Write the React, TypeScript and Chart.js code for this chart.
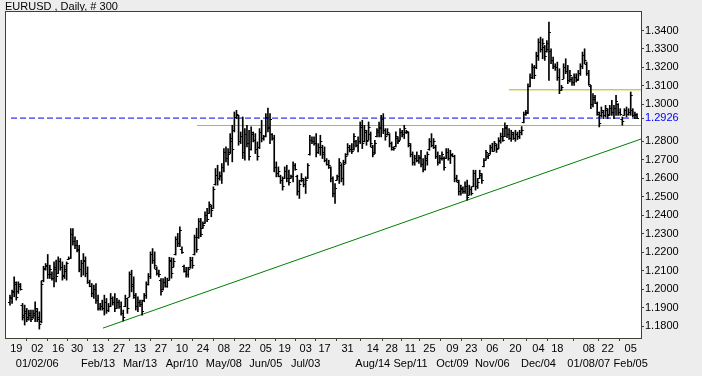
import React, { useEffect, useRef } from "react";
import { Chart, registerables } from "chart.js";

Chart.register(...registerables);

const chartTitle = "EURUSD , Daily, # 300";

const highs = [
  1.1968, 1.1995, 1.2067, 1.2040, 1.2040, 1.2031, 1.1923, 1.1914, 1.1896, 1.1887,
  1.1887, 1.1887, 1.1932, 1.1896, 1.1878, 1.2045, 1.2124, 1.2139, 1.2188, 1.2130,
  1.2094, 1.2148, 1.2157, 1.2175, 1.2166, 1.2148, 1.2130, 1.2148, 1.2175, 1.2328,
  1.2328, 1.2283, 1.2265, 1.2238, 1.2157, 1.2193, 1.2175, 1.2121, 1.2049, 1.2031,
  1.2022, 1.2031, 1.1968, 1.1923, 1.1941, 1.1968, 1.1950, 1.1923, 1.1977, 1.1959,
  1.1977, 1.1950, 1.1941, 1.1932, 1.1887, 1.1968, 1.1950, 1.2094, 1.2103, 1.2067,
  1.1977, 1.1959, 1.1941, 1.1941, 1.1977, 1.2040, 1.2085, 1.2202, 1.2220, 1.2202,
  1.2121, 1.2103, 1.2058, 1.2058, 1.2065, 1.2060, 1.2173, 1.2170, 1.2168, 1.2284,
  1.2302, 1.2338, 1.2230, 1.2130, 1.2119, 1.2119, 1.2173, 1.2173, 1.2293, 1.2330,
  1.2383, 1.2383, 1.2365, 1.2419, 1.2437, 1.2473, 1.2455, 1.2554, 1.2653, 1.2671,
  1.2635, 1.2680, 1.2761, 1.2770, 1.2761, 1.2842, 1.2887, 1.2959, 1.2968, 1.2941,
  1.2851, 1.2932, 1.2869, 1.2887, 1.2860, 1.2878, 1.2851, 1.2842, 1.2797, 1.2869,
  1.2914, 1.2833, 1.2950, 1.2980, 1.2950, 1.2842, 1.2833, 1.2689, 1.2662, 1.2617,
  1.2608, 1.2662, 1.2671, 1.2644, 1.2617, 1.2689, 1.2680, 1.2617, 1.2590, 1.2626,
  1.2599, 1.2608, 1.2680, 1.2833, 1.2824, 1.2824, 1.2842, 1.2788, 1.2833, 1.2779,
  1.2770, 1.2707, 1.2698, 1.2662, 1.2608, 1.2572, 1.2617, 1.2707, 1.2680, 1.2698,
  1.2734, 1.2788, 1.2779, 1.2788, 1.2842, 1.2806, 1.2824, 1.2905, 1.2914, 1.2887,
  1.2860, 1.2905, 1.2851, 1.2779, 1.2806, 1.2869, 1.2905, 1.2941, 1.2950, 1.2869,
  1.2869, 1.2842, 1.2797, 1.2770, 1.2851, 1.2824, 1.2869, 1.2860, 1.2887, 1.2860,
  1.2851, 1.2788, 1.2743, 1.2725, 1.2743, 1.2725, 1.2752, 1.2707, 1.2725, 1.2743,
  1.2815, 1.2842, 1.2815, 1.2779, 1.2743, 1.2725, 1.2743, 1.2716, 1.2761, 1.2761,
  1.2752, 1.2734, 1.2725, 1.2617, 1.2590, 1.2563, 1.2554, 1.2581, 1.2590, 1.2563,
  1.2554, 1.2644, 1.2644, 1.2599, 1.2644, 1.2626, 1.2707, 1.2752, 1.2734, 1.2780,
  1.2790, 1.2800, 1.2785, 1.2820, 1.2845, 1.2870, 1.2900, 1.2887, 1.2869, 1.2860,
  1.2850, 1.2860, 1.2850, 1.2860, 1.2880, 1.2959, 1.2968, 1.3112, 1.3166, 1.3220,
  1.3211, 1.3283, 1.3355, 1.3364, 1.3355, 1.3319, 1.3346, 1.3445, 1.3301, 1.3256,
  1.3220, 1.3229, 1.3193, 1.3103, 1.3220, 1.3247, 1.3211, 1.3184, 1.3148, 1.3166,
  1.3166, 1.3184, 1.3220, 1.3283, 1.3301, 1.3229, 1.3184, 1.3103, 1.3058, 1.3049,
  1.3013, 1.2959, 1.2986, 1.2968, 1.2995, 1.2977, 1.2995, 1.3022, 1.2995, 1.3049,
  1.3004, 1.2977, 1.2932, 1.2977, 1.2986, 1.2977, 1.3067, 1.2977, 1.2959, 1.2950,
];

const lows = [
  1.1914, 1.1923, 1.1959, 1.1941, 1.1977, 1.1995, 1.1833, 1.1806, 1.1824, 1.1833,
  1.1824, 1.1842, 1.1824, 1.1824, 1.1784, 1.1818, 1.2040, 1.2103, 1.2058, 1.2058,
  1.2049, 1.2013, 1.2040, 1.2085, 1.2103, 1.2049, 1.2058, 1.2049, 1.2160, 1.2166,
  1.2238, 1.2220, 1.2202, 1.2094, 1.2067, 1.2076, 1.2067, 1.2031, 1.2013, 1.1959,
  1.1950, 1.1923, 1.1887, 1.1887, 1.1887, 1.1860, 1.1869, 1.1878, 1.1905, 1.1914,
  1.1878, 1.1896, 1.1896, 1.1860, 1.1828, 1.1905, 1.1869, 1.1959, 1.1986, 1.1950,
  1.1887, 1.1878, 1.1905, 1.1860, 1.1932, 1.1950, 1.2022, 1.2058, 1.2139, 1.2112,
  1.2076, 1.2067, 1.1968, 1.1995, 1.2011, 1.2010, 1.2049, 1.2060, 1.2119, 1.2185,
  1.2230, 1.2230, 1.2194, 1.2092, 1.2065, 1.2065, 1.2113, 1.2113, 1.2185, 1.2200,
  1.2275, 1.2284, 1.2329, 1.2356, 1.2365, 1.2410, 1.2392, 1.2437, 1.2563, 1.2563,
  1.2590, 1.2572, 1.2635, 1.2689, 1.2671, 1.2734, 1.2689, 1.2851, 1.2923, 1.2779,
  1.2788, 1.2707, 1.2698, 1.2770, 1.2698, 1.2752, 1.2797, 1.2734, 1.2698, 1.2761,
  1.2797, 1.2806, 1.2824, 1.2851, 1.2788, 1.2806, 1.2635, 1.2608, 1.2608, 1.2572,
  1.2536, 1.2599, 1.2581, 1.2563, 1.2599, 1.2581, 1.2644, 1.2509, 1.2491, 1.2581,
  1.2554, 1.2518, 1.2599, 1.2725, 1.2788, 1.2779, 1.2716, 1.2734, 1.2725, 1.2707,
  1.2689, 1.2671, 1.2653, 1.2581, 1.2500, 1.2464, 1.2590, 1.2572, 1.2581, 1.2563,
  1.2680, 1.2725, 1.2743, 1.2734, 1.2752, 1.2770, 1.2743, 1.2788, 1.2761, 1.2797,
  1.2779, 1.2806, 1.2770, 1.2716, 1.2734, 1.2824, 1.2824, 1.2824, 1.2842, 1.2806,
  1.2833, 1.2770, 1.2752, 1.2752, 1.2770, 1.2788, 1.2806, 1.2824, 1.2815, 1.2842,
  1.2770, 1.2716, 1.2671, 1.2671, 1.2689, 1.2680, 1.2662, 1.2635, 1.2644, 1.2671,
  1.2752, 1.2770, 1.2761, 1.2707, 1.2671, 1.2680, 1.2698, 1.2644, 1.2707, 1.2698,
  1.2680, 1.2716, 1.2581, 1.2581, 1.2509, 1.2509, 1.2518, 1.2518, 1.2482, 1.2509,
  1.2509, 1.2554, 1.2536, 1.2545, 1.2599, 1.2572, 1.2662, 1.2698, 1.2707, 1.2730,
  1.2745, 1.2750, 1.2740, 1.2760, 1.2790, 1.2800, 1.2825, 1.2820, 1.2810, 1.2800,
  1.2810, 1.2800, 1.2810, 1.2815, 1.2835, 1.2900, 1.2941, 1.2950, 1.3094, 1.3139,
  1.3139, 1.3193, 1.3238, 1.3283, 1.3247, 1.3238, 1.3283, 1.3130, 1.3220, 1.3193,
  1.3184, 1.3130, 1.3058, 1.3076, 1.3139, 1.3166, 1.3112, 1.3121, 1.3103, 1.3103,
  1.3121, 1.3130, 1.3157, 1.3193, 1.3220, 1.3157, 1.3103, 1.2977, 1.2986, 1.3004,
  1.2941, 1.2878, 1.2932, 1.2923, 1.2932, 1.2923, 1.2941, 1.2941, 1.2923, 1.2941,
  1.2941, 1.2941, 1.2887, 1.2941, 1.2932, 1.2941, 1.2941, 1.2932, 1.2923, 1.2923,
];

const opens = [
  1.1930, 1.1950, 1.1985, 1.2030, 1.1990, 1.2020, 1.1915, 1.1860, 1.1870, 1.1850,
  1.1860, 1.1850, 1.1860, 1.1880, 1.1850, 1.1830, 1.2050, 1.2115, 1.2130, 1.2080,
  1.2085, 1.2060, 1.2110, 1.2090, 1.2150, 1.2120, 1.2075, 1.2100, 1.2165, 1.2170,
  1.2300, 1.2260, 1.2240, 1.2220, 1.2110, 1.2140, 1.2150, 1.2090, 1.2040, 1.2020,
  1.1980, 1.2000, 1.1940, 1.1900, 1.1910, 1.1900, 1.1930, 1.1890, 1.1910, 1.1950,
  1.1930, 1.1900, 1.1930, 1.1910, 1.1870, 1.1910, 1.1950, 1.1960, 1.2080, 1.2030,
  1.1960, 1.1910, 1.1930, 1.1920, 1.1940, 1.1970, 1.2030, 1.2070, 1.2190, 1.2160,
  1.2110, 1.2090, 1.2050, 1.2000, 1.2040, 1.2020, 1.2050, 1.2150, 1.2120, 1.2190,
  1.2270, 1.2250, 1.2220, 1.2125, 1.2100, 1.2080, 1.2120, 1.2160, 1.2190, 1.2280,
  1.2280, 1.2370, 1.2330, 1.2360, 1.2400, 1.2410, 1.2450, 1.2440, 1.2570, 1.2620,
  1.2600, 1.2610, 1.2660, 1.2740, 1.2710, 1.2740, 1.2800, 1.2860, 1.2930, 1.2940,
  1.2800, 1.2830, 1.2740, 1.2840, 1.2790, 1.2760, 1.2840, 1.2810, 1.2760, 1.2770,
  1.2850, 1.2820, 1.2830, 1.2930, 1.2880, 1.2840, 1.2820, 1.2660, 1.2630, 1.2610,
  1.2590, 1.2600, 1.2640, 1.2600, 1.2600, 1.2610, 1.2670, 1.2610, 1.2530, 1.2590,
  1.2590, 1.2570, 1.2600, 1.2730, 1.2810, 1.2800, 1.2790, 1.2740, 1.2770, 1.2770,
  1.2740, 1.2700, 1.2680, 1.2660, 1.2600, 1.2520, 1.2590, 1.2610, 1.2670, 1.2600,
  1.2690, 1.2730, 1.2770, 1.2760, 1.2760, 1.2800, 1.2780, 1.2800, 1.2880, 1.2800,
  1.2850, 1.2810, 1.2840, 1.2770, 1.2740, 1.2830, 1.2850, 1.2870, 1.2920, 1.2860,
  1.2840, 1.2840, 1.2790, 1.2760, 1.2775, 1.2820, 1.2810, 1.2850, 1.2840, 1.2850,
  1.2850, 1.2780, 1.2730, 1.2690, 1.2710, 1.2700, 1.2710, 1.2680, 1.2650, 1.2700,
  1.2760, 1.2800, 1.2780, 1.2770, 1.2720, 1.2690, 1.2710, 1.2710, 1.2710, 1.2740,
  1.2710, 1.2725, 1.2720, 1.2600, 1.2580, 1.2530, 1.2540, 1.2530, 1.2560, 1.2510,
  1.2540, 1.2560, 1.2630, 1.2560, 1.2600, 1.2620, 1.2665, 1.2700, 1.2720, 1.2735,
  1.2770, 1.2750, 1.2780, 1.2765, 1.2800, 1.2830, 1.2830, 1.2870, 1.2840, 1.2820,
  1.2840, 1.2820, 1.2840, 1.2830, 1.2850, 1.2905, 1.2950, 1.2960, 1.3100, 1.3150,
  1.3200, 1.3200, 1.3260, 1.3340, 1.3300, 1.3310, 1.3290, 1.3300, 1.3290, 1.3240,
  1.3210, 1.3200, 1.3150, 1.3080, 1.3140, 1.3200, 1.3180, 1.3130, 1.3140, 1.3120,
  1.3150, 1.3135, 1.3170, 1.3210, 1.3270, 1.3220, 1.3170, 1.3100, 1.3000, 1.3030,
  1.3010, 1.2950, 1.2940, 1.2960, 1.2940, 1.2970, 1.2950, 1.2980, 1.2960, 1.2980,
  1.3000, 1.2960, 1.2920, 1.2945, 1.2970, 1.2950, 1.2960, 1.2970, 1.2940, 1.2945,
];

const closes = [
  1.1960, 1.1990, 1.2040, 1.1960, 1.2030, 1.2000, 1.1850, 1.1880, 1.1840, 1.1870,
  1.1840, 1.1870, 1.1900, 1.1840, 1.1810, 1.2030, 1.2110, 1.2125, 1.2080, 1.2110,
  1.2060, 1.2120, 1.2070, 1.2150, 1.2120, 1.2070, 1.2110, 1.2140, 1.2170, 1.2300,
  1.2260, 1.2240, 1.2210, 1.2110, 1.2140, 1.2160, 1.2090, 1.2040, 1.2020, 1.1980,
  1.2000, 1.1940, 1.1900, 1.1910, 1.1900, 1.1930, 1.1890, 1.1910, 1.1950, 1.1930,
  1.1900, 1.1930, 1.1910, 1.1870, 1.1850, 1.1950, 1.1900, 1.2080, 1.2020, 1.1970,
  1.1910, 1.1930, 1.1920, 1.1880, 1.1970, 1.2030, 1.2070, 1.2190, 1.2160, 1.2130,
  1.2090, 1.2080, 1.1990, 1.2040, 1.2020, 1.2050, 1.2160, 1.2090, 1.2150, 1.2270,
  1.2250, 1.2320, 1.2200, 1.2100, 1.2080, 1.2110, 1.2160, 1.2130, 1.2280, 1.2220,
  1.2370, 1.2300, 1.2350, 1.2400, 1.2380, 1.2460, 1.2430, 1.2540, 1.2620, 1.2600,
  1.2620, 1.2660, 1.2740, 1.2710, 1.2730, 1.2820, 1.2760, 1.2930, 1.2950, 1.2800,
  1.2830, 1.2740, 1.2840, 1.2790, 1.2720, 1.2850, 1.2810, 1.2760, 1.2720, 1.2850,
  1.2820, 1.2830, 1.2930, 1.2870, 1.2920, 1.2820, 1.2660, 1.2630, 1.2640, 1.2590,
  1.2560, 1.2640, 1.2600, 1.2580, 1.2610, 1.2670, 1.2650, 1.2530, 1.2570, 1.2600,
  1.2570, 1.2590, 1.2670, 1.2810, 1.2800, 1.2790, 1.2740, 1.2770, 1.2800, 1.2730,
  1.2700, 1.2680, 1.2670, 1.2600, 1.2520, 1.2550, 1.2610, 1.2690, 1.2600, 1.2680,
  1.2720, 1.2770, 1.2760, 1.2750, 1.2830, 1.2780, 1.2800, 1.2890, 1.2790, 1.2860,
  1.2800, 1.2880, 1.2790, 1.2730, 1.2790, 1.2860, 1.2880, 1.2920, 1.2860, 1.2830,
  1.2850, 1.2790, 1.2770, 1.2765, 1.2830, 1.2800, 1.2850, 1.2840, 1.2870, 1.2855,
  1.2790, 1.2730, 1.2690, 1.2710, 1.2700, 1.2715, 1.2680, 1.2650, 1.2710, 1.2730,
  1.2800, 1.2780, 1.2800, 1.2720, 1.2690, 1.2710, 1.2730, 1.2660, 1.2740, 1.2710,
  1.2730, 1.2720, 1.2600, 1.2590, 1.2530, 1.2550, 1.2530, 1.2560, 1.2500, 1.2540,
  1.2520, 1.2630, 1.2560, 1.2580, 1.2630, 1.2590, 1.2700, 1.2740, 1.2725, 1.2770,
  1.2750, 1.2790, 1.2760, 1.2810, 1.2830, 1.2810, 1.2880, 1.2840, 1.2820, 1.2850,
  1.2820, 1.2840, 1.2830, 1.2850, 1.2860, 1.2950, 1.2955, 1.3100, 1.3150, 1.3200,
  1.3160, 1.3270, 1.3340, 1.3300, 1.3330, 1.3260, 1.3330, 1.3390, 1.3240, 1.3210,
  1.3200, 1.3150, 1.3080, 1.3095, 1.3200, 1.3180, 1.3130, 1.3160, 1.3120, 1.3150,
  1.3130, 1.3170, 1.3210, 1.3270, 1.3240, 1.3170, 1.3110, 1.3000, 1.3040, 1.3010,
  1.2960, 1.2900, 1.2970, 1.2940, 1.2980, 1.2940, 1.2980, 1.2960, 1.2980, 1.3020,
  1.2960, 1.2950, 1.2910, 1.2970, 1.2950, 1.2960, 1.3050, 1.2940, 1.2950, 1.2926,
];

// x-axis ticks (bar index, day label, month label)
const tickIndex = [3, 13, 23, 32, 42, 52, 62, 72, 82, 92, 102, 112, 122, 131, 141, 150, 161, 173, 182, 191, 200, 211, 220, 230, 241, 252, 261, 276, 285, 296];
const tickDay = ["19", "02", "16", "30", "13", "27", "13", "27", "10", "24", "08", "22", "05", "19", "03", "17", "31", "14", "28", "11", "25", "09", "23", "06", "20", "04", "18", "08", "22", "05"];
const tickMonth = ["", "01/02/06", "", "", "Feb/13", "", "Mar/13", "", "Apr/10", "", "May/08", "", "Jun/05", "", "Jul/03", "", "", "Aug/14", "", "Sep/11", "", "Oct/09", "", "Nov/06", "", "Dec/04", "", "01/08/07", "", "Feb/05"];

// y-axis ticks
const yTickValues = [1.18, 1.19, 1.2, 1.21, 1.22, 1.23, 1.24, 1.25, 1.26, 1.27, 1.28, 1.2926, 1.3, 1.31, 1.32, 1.33, 1.34];
const lastPrice = 1.2926;

// horizontal levels: value and first bar index
const levelValues = [1.2886, 1.3079];
const levelStart = [89.2, 237.9];
const levelColors = ["#f5a000", "#b4b400"];

// trendline anchored on two lows (bar indices)
const trendAnchors = [54, 218];
const trendStartIndex = 44.35;

const X_MIN = -1.9;
const X_MAX = 300.9;
const Y_MIN = 1.1736;
const Y_MAX = 1.35;

export default function App() {
  const canvasRef = useRef<HTMLCanvasElement | null>(null);

  useEffect(() => {
    const canvas = canvasRef.current;
    if (!canvas) return;

    const a0 = trendAnchors[0];
    const a1 = trendAnchors[1];
    const slope = (lows[a1] - lows[a0]) / (a1 - a0);
    const trendAt = (i: number) => lows[a0] + (i - a0) * slope;

    const frame = {
      id: "frame",
      beforeDraw(chart: any) {
        const { ctx, chartArea } = chart;
        ctx.save();
        ctx.fillStyle = "#ededed";
        ctx.fillRect(0, 0, chart.width, chart.height);
        ctx.fillStyle = "#ffffff";
        ctx.fillRect(chartArea.left, chartArea.top, chartArea.right - chartArea.left, chartArea.bottom - chartArea.top);
        ctx.fillStyle = "#000000";
        ctx.font = "11px 'Liberation Sans', Arial, sans-serif";
        ctx.textBaseline = "alphabetic";
        ctx.fillText(chartTitle, 5, 10);
        ctx.restore();
      },
      afterDraw(chart: any) {
        const { ctx, chartArea } = chart;
        ctx.save();
        ctx.strokeStyle = "#404033";
        ctx.lineWidth = 1;
        ctx.strokeRect(chartArea.left - 0.5, chartArea.top - 0.5, chartArea.right - chartArea.left + 1, chartArea.bottom - chartArea.top + 1);
        ctx.restore();
      },
    };

    const ohlcTicks = {
      id: "ohlcTicks",
      afterDatasetsDraw(chart: any) {
        const xs = chart.scales.x;
        const ys = chart.scales.y;
        const ctx = chart.ctx;
        ctx.save();
        ctx.strokeStyle = "#000000";
        ctx.lineWidth = 1;
        ctx.beginPath();
        for (let i = 0; i < highs.length; i++) {
          const x = xs.getPixelForValue(i);
          const yo = Math.round(ys.getPixelForValue(opens[i])) + 0.5;
          const yc = Math.round(ys.getPixelForValue(closes[i])) + 0.5;
          ctx.moveTo(x - 2, yo);
          ctx.lineTo(x, yo);
          ctx.moveTo(x, yc);
          ctx.lineTo(x + 2, yc);
        }
        ctx.stroke();
        ctx.restore();
      },
    };

    const levelDatasets = levelValues.map((v, k) => ({
      type: "line" as const,
      data: [
        { x: levelStart[k], y: v },
        { x: X_MAX, y: v },
      ],
      borderColor: levelColors[k],
      borderWidth: 1,
      pointRadius: 0,
      order: 3,
    }));

    const chart = new Chart(canvas, {
      type: "bar",
      data: {
        datasets: [
          {
            type: "bar",
            data: highs.map((h, i) => ({ x: i, y: [lows[i], h] })) as any,
            backgroundColor: "#000000",
            borderWidth: 0,
            barThickness: 1,
            order: 1,
          } as any,
          ...levelDatasets,
          {
            type: "line",
            data: [
              { x: 0.5, y: lastPrice },
              { x: X_MAX, y: lastPrice },
            ],
            borderColor: "#0000ee",
            borderWidth: 1,
            borderDash: [6, 3],
            pointRadius: 0,
            order: 2,
          },
          {
            type: "line",
            data: [
              { x: trendStartIndex, y: trendAt(trendStartIndex) },
              { x: X_MAX, y: trendAt(X_MAX) },
            ],
            borderColor: "#008000",
            borderWidth: 1,
            pointRadius: 0,
            order: 2,
          },
        ] as any,
      },
      options: {
        animation: false,
        responsive: false,
        devicePixelRatio: 1,
        layout: { padding: { left: 6, top: 12, right: 0, bottom: 0 } },
        plugins: {
          legend: { display: false },
          tooltip: { enabled: false },
          title: { display: false },
        },
        scales: {
          x: {
            type: "linear",
            min: X_MIN,
            max: X_MAX,
            offset: false,
            bounds: "data",
            border: { display: false },
            grid: {
              display: true,
              drawOnChartArea: false,
              drawTicks: true,
              tickLength: 3,
              color: "#404033",
            },
            afterBuildTicks(scale: any) {
              scale.ticks = tickIndex.map((v) => ({ value: v }));
            },
            afterFit(scale: any) {
              scale.height = 38;
            },
            ticks: {
              autoSkip: false,
              maxRotation: 0,
              minRotation: 0,
              padding: 0,
              color: "#000000",
              font: { family: "'Liberation Sans', Arial, sans-serif", size: 11, lineHeight: "15px" as any },
              callback: (_v: any, index: number) => [tickDay[index], tickMonth[index]],
            },
          },
          y: {
            type: "linear",
            position: "right",
            min: Y_MIN,
            max: Y_MAX,
            bounds: "data",
            border: { display: false },
            grid: {
              display: true,
              drawOnChartArea: false,
              drawTicks: true,
              tickLength: 3,
              color: "#404033",
            },
            afterBuildTicks(scale: any) {
              scale.ticks = yTickValues.map((v) => ({ value: v }));
            },
            afterFit(scale: any) {
              scale.width = 61;
            },
            ticks: {
              autoSkip: false,
              padding: 1,
              font: { family: "'Liberation Sans', Arial, sans-serif", size: 11 },
              color: (ctx: any) =>
                ctx.tick && Math.abs(ctx.tick.value - lastPrice) < 1e-6 ? "#0000ff" : "#000000",
              callback: (v: any) => Number(v).toFixed(4),
            },
          },
        },
      } as any,
      plugins: [frame, ohlcTicks],
    });

    return () => {
      chart.destroy();
    };
  }, []);

  return (
    <div
      style={{
        position: "fixed",
        left: 0,
        top: 0,
        width: 702,
        height: 376,
        background: "#ededed",
      }}
    >
      <canvas ref={canvasRef} width={702} height={376} style={{ width: 702, height: 376, display: "block" }} />
    </div>
  );
}
